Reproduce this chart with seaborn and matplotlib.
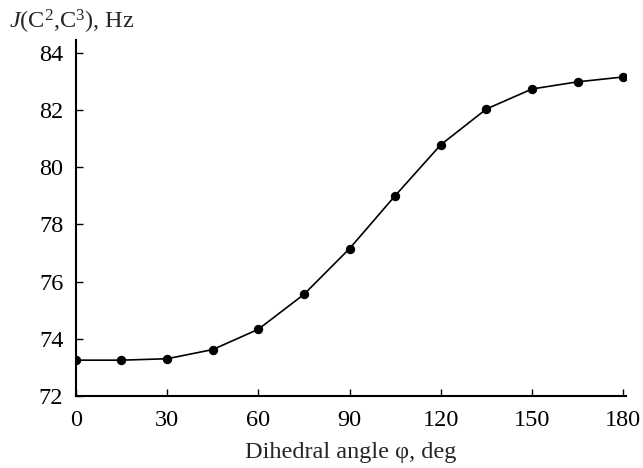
import pandas as pd
import seaborn as sns
import matplotlib
matplotlib.use("Agg")
import matplotlib.pyplot as plt

angle = [0, 15, 30, 45, 60, 75, 90, 105, 120, 135, 150, 165, 180]
coupling = [73.25, 73.25, 73.3, 73.62, 74.33, 75.55, 77.15, 79.0, 80.78,
            82.03, 82.73, 82.98, 83.15]
x_ticks = [0, 30, 60, 90, 120, 150, 180]
y_ticks = [72, 74, 76, 78, 80, 82, 84]

df = pd.DataFrame({'angle': angle, 'J': coupling})

sns.set_style("ticks")
plt.rcParams['font.family'] = ['Liberation Serif', 'DejaVu Serif']
plt.rcParams['mathtext.fontset'] = 'custom'
plt.rcParams['mathtext.rm'] = 'Liberation Serif'
plt.rcParams['mathtext.it'] = 'Liberation Serif:italic'

fig = plt.figure(figsize=(6.43, 4.68), dpi=100)
ax = fig.add_axes([0.118, 0.154, 0.856, 0.761])
sns.lineplot(data=df, x='angle', y='J', color='black', linewidth=1.2,
             marker='o', markersize=6, markeredgecolor='black', ax=ax)

ax.set_xlim(0, 181)
ax.set_ylim(72, 84.45)
ax.set_xticks(x_ticks)
ax.set_yticks(y_ticks)
ax.tick_params(direction='in', length=5, width=1, labelsize=17.5,
               colors='black')
ax.tick_params(axis='x', pad=10)
ax.tick_params(axis='y', pad=9)
for side in ['top', 'right']:
    ax.spines[side].set_visible(False)
for side in ['left', 'bottom']:
    ax.spines[side].set_linewidth(1.5)
    ax.spines[side].set_color('black')

ax.set_xlabel('')
ax.set_ylabel('')
fig.text(0.545, 0.033, 'Dihedral angle \u03c6, deg', ha='center', va='center',
         fontsize=17.5)
fig.text(0.014, 0.953, r'$J$(C$^2$,C$^3$), Hz', ha='left', va='center',
         fontsize=17.5)

fig.savefig('out.png', dpi=100)
